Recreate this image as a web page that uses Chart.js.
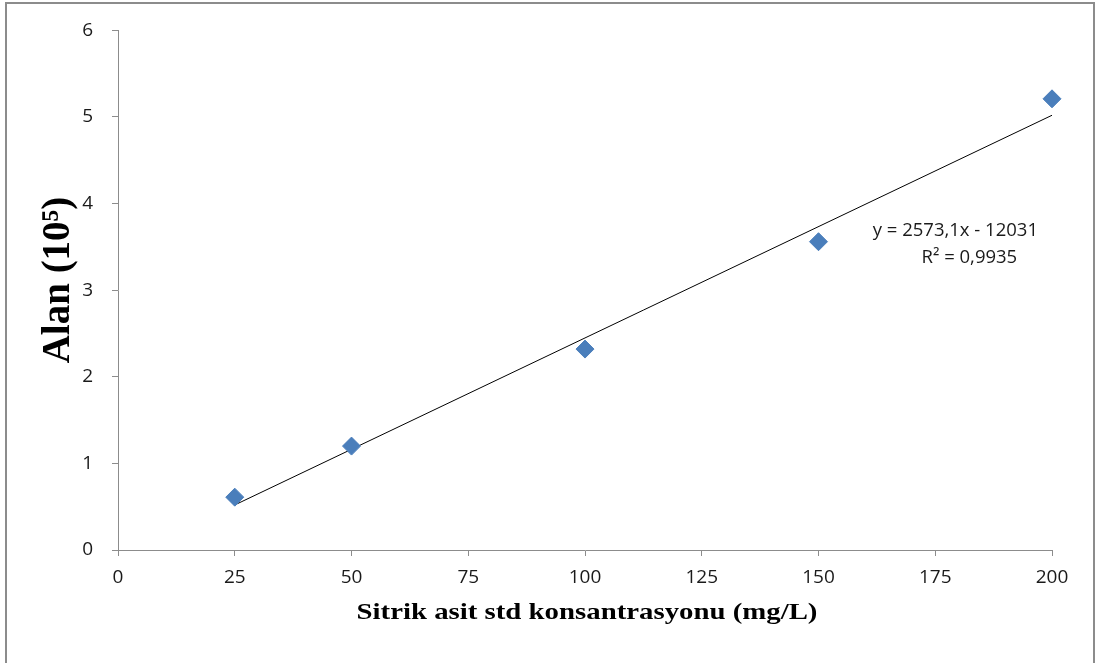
<!DOCTYPE html>
<html>
<head>
<meta charset="utf-8">
<script src="https://cdn.jsdelivr.net/npm/chart.js@4/dist/chart.umd.min.js"></script>
<style>
  html, body { margin: 0; padding: 0; background: #fff; }
  #wrap { position: relative; width: 1097px; height: 663px; overflow: hidden; }
  #frame { position: absolute; left: 5px; top: 2px; width: 1090px; height: 700px; border: 2px solid #8c8c8c; box-sizing: border-box; }
  canvas { position: absolute; left: 0; top: 0; }
</style>
</head>
<body>
<div id="wrap">
  <div id="frame"></div>
  <canvas id="chart" width="1097" height="663"></canvas>
</div>
<script>
// concentration (mg/L) and peak area (x 10^5)
const concentrations = [25, 50, 100, 150, 200];
const areas = [0.61, 1.2, 2.32, 3.56, 5.21];

// linear trendline ends
const trendX = [25, 200];
const trendY = [0.52, 5.02];

const xTicks = [0, 25, 50, 75, 100, 125, 150, 175, 200];
const yTicks = [0, 1, 2, 3, 4, 5, 6];

const equationLines = ["y = 2573,1x - 12031", "R\u00b2 = 0,9935"];

const tickFont = { family: "'Open Sans', 'Liberation Sans', sans-serif", size: 19 };

// axis titles and trendline equation
const textPlugin = {
  id: "texts",
  afterDraw(chart) {
    const ctx = chart.ctx;
    const area = chart.chartArea;
    ctx.save();
    ctx.fillStyle = "#000";
    ctx.font = "bold 24px 'Liberation Serif', 'Times New Roman', serif";
    ctx.textAlign = "center";
    ctx.textBaseline = "middle";
    ctx.translate((area.left + area.right) / 2 + 2, 613);
    ctx.scale(1.2, 1);
    ctx.fillText("Sitrik asit std konsantrasyonu (mg/L)", 0, 0);
    ctx.restore();

    ctx.save();
    ctx.fillStyle = "#000";
    ctx.font = "bold 39px 'Liberation Serif', 'Times New Roman', serif";
    ctx.textAlign = "center";
    ctx.textBaseline = "middle";
    ctx.translate(59, 280);
    ctx.rotate(-Math.PI / 2);
    ctx.fillText("Alan (10\u2075)", 0, 0);
    ctx.restore();

    ctx.save();
    ctx.fillStyle = "#1a1a1a";
    ctx.font = "18.5px 'Open Sans', 'Liberation Sans', sans-serif";
    ctx.textAlign = "center";
    ctx.textBaseline = "middle";
    const xs = chart.scales.x, ys = chart.scales.y;
    ctx.fillText(equationLines[0], xs.getPixelForValue(179.3), ys.getPixelForValue(3.69));
    ctx.fillText(equationLines[1], xs.getPixelForValue(182.3), ys.getPixelForValue(3.38));
    ctx.restore();
  }
};

new Chart(document.getElementById("chart"), {
  type: "scatter",
  data: {
    datasets: [
      {
        label: "Trend",
        type: "line",
        data: trendX.map((x, i) => ({ x: x, y: trendY[i] })),
        borderColor: "#000",
        borderWidth: 1,
        pointRadius: 0,
        fill: false,
        clip: false,
        order: 2
      },
      {
        label: "Alan",
        data: concentrations.map((x, i) => ({ x: x, y: areas[i] })),
        pointStyle: "rectRot",
        pointRadius: 9,
        pointHoverRadius: 9,
        backgroundColor: "#4a7ebb",
        borderColor: "#4a7ebb",
        borderWidth: 1,
        clip: false,
        order: 1
      }
    ]
  },
  options: {
    responsive: false,
    animation: false,
    events: [],
    layout: { padding: { left: 0, top: 29, right: 45, bottom: 0 } },
    plugins: { legend: { display: false }, tooltip: { enabled: false } },
    scales: {
      x: {
        type: "linear",
        min: 0,
        max: 200,
        afterBuildTicks: (scale) => { scale.ticks = xTicks.map(v => ({ value: v })); },
        afterFit: (scale) => { scale.height = 113; },
        grid: { drawOnChartArea: false, color: "#8c8c8c", tickLength: 6, tickColor: "#8c8c8c" },
        border: { color: "#8c8c8c", width: 1 },
        ticks: { color: "#1a1a1a", font: tickFont, padding: 10, maxRotation: 0 }
      },
      y: {
        type: "linear",
        min: 0,
        max: 6,
        afterBuildTicks: (scale) => { scale.ticks = yTicks.map(v => ({ value: v })); },
        afterFit: (scale) => { scale.width = 118; },
        grid: { drawOnChartArea: false, color: "#8c8c8c", tickLength: 6, tickColor: "#8c8c8c" },
        border: { color: "#8c8c8c", width: 1 },
        ticks: { color: "#1a1a1a", font: tickFont, padding: 19 }
      }
    }
  },
  plugins: [textPlugin]
});
</script>
</body>
</html>
